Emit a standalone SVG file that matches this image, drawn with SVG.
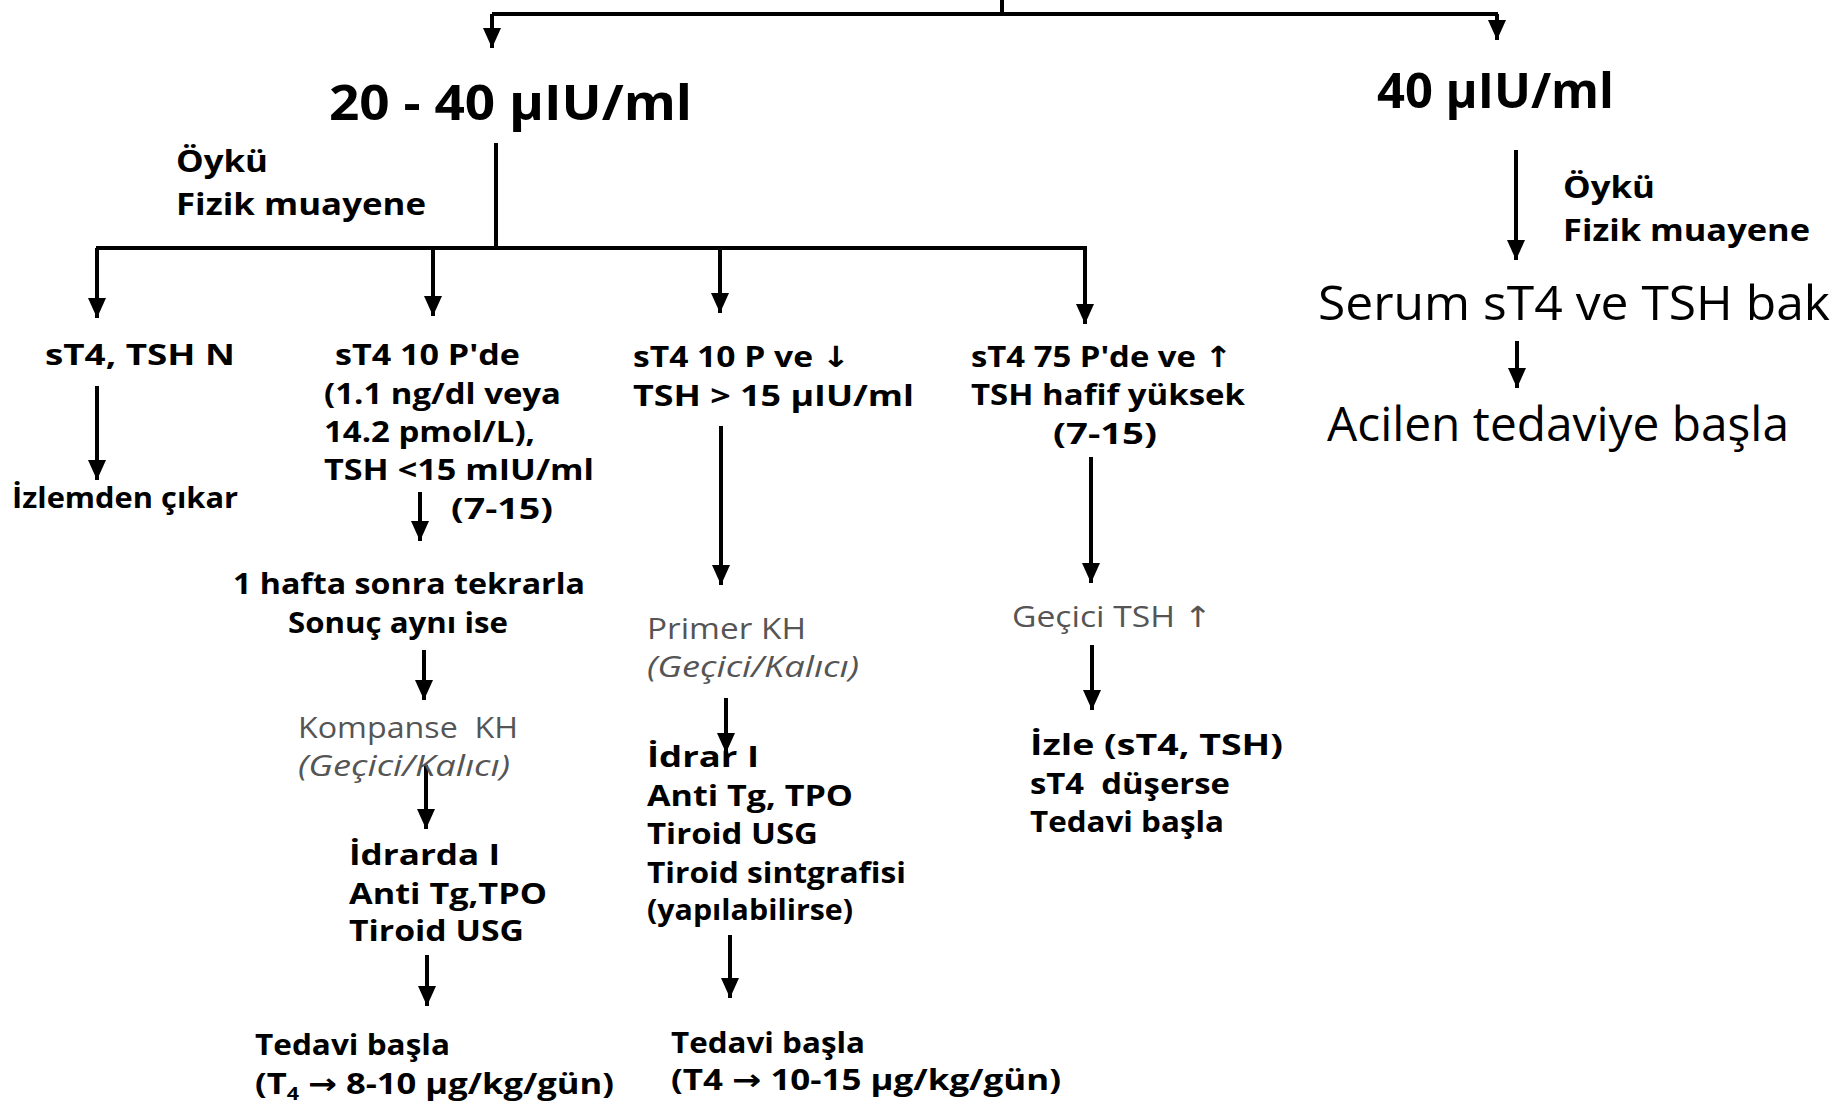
<svg xmlns="http://www.w3.org/2000/svg" width="1845" height="1106" viewBox="0 0 1845 1106">
<style>
text{font-family:"Open Sans","Noto Sans","DejaVu Sans",sans-serif;fill:#000;white-space:pre}
.b{font-weight:700;font-size:29px}
.h{font-weight:700;font-size:49px}
.m{font-weight:700;font-size:31px}
.r{font-weight:400;font-size:47px}
.g{font-weight:400;font-size:29px;fill:#555}
.gi{font-weight:400;font-style:italic;font-size:29px;fill:#555}
.ln{stroke:#000;stroke-width:4;fill:none}
.ar{stroke:#000;stroke-width:4;fill:none;marker-end:url(#ah)}
</style>
<defs>
<marker id="ah" viewBox="0 0 20 18" refX="20" refY="9" markerWidth="22" markerHeight="18" markerUnits="userSpaceOnUse" orient="auto">
<path d="M0,0 L20,9 L0,18 z" fill="#000"/>
</marker>
</defs>
<rect width="1845" height="1106" fill="#fff"/>
<g id="connectors">
<path class="ln" d="M1002,0 V14"/>
<path class="ln" d="M492,14 H1498"/>
<path class="ar" d="M492,14 V48"/>
<path class="ar" d="M1497,14 V40"/>
<path class="ln" d="M496,143 V248"/>
<path class="ln" d="M96,248 H1087"/>
<path class="ar" d="M97,248 V318"/>
<path class="ar" d="M433,248 V316"/>
<path class="ar" d="M720,248 V313"/>
<path class="ar" d="M1085,248 V324"/>
<path class="ar" d="M97,386 V480"/>
<path class="ar" d="M420,492 V541"/>
<path class="ar" d="M424,650 V700"/>
<path class="ar" d="M426,765 V829"/>
<path class="ar" d="M427,955 V1006"/>
<path class="ar" d="M721,426 V585"/>
<path class="ar" d="M726,698 V753"/>
<path class="ar" d="M730,935 V998"/>
<path class="ar" d="M1091,457 V583"/>
<path class="ar" d="M1092,645 V710"/>
<path class="ar" d="M1516,150 V260"/>
<path class="ar" d="M1517,341 V388"/>
</g>
<g id="n-20-40"><text class="h" x="329" y="120" textLength="363" lengthAdjust="spacingAndGlyphs">20 - 40 µIU/ml</text></g>
<g id="n-40"><text class="h" x="1377" y="108" textLength="237" lengthAdjust="spacingAndGlyphs">40 µIU/ml</text></g>
<g id="n-oyku-left">
<text class="m" x="176" y="172" textLength="92" lengthAdjust="spacingAndGlyphs">Öykü</text>
<text class="m" x="176" y="215" textLength="250" lengthAdjust="spacingAndGlyphs">Fizik muayene</text>
</g>
<g id="n-oyku-right">
<text class="m" x="1563" y="198" textLength="92" lengthAdjust="spacingAndGlyphs">Öykü</text>
<text class="m" x="1563" y="241" textLength="247" lengthAdjust="spacingAndGlyphs">Fizik muayene</text>
</g>
<g id="n-serum"><text class="r" x="1318" y="320" textLength="512" lengthAdjust="spacingAndGlyphs">Serum sT4 ve TSH bak</text></g>
<g id="n-acilen"><text class="r" x="1327" y="441" textLength="462" lengthAdjust="spacingAndGlyphs">Acilen tedaviye başla</text></g>
<g id="n-normal"><text class="b" x="45" y="365" textLength="190" lengthAdjust="spacingAndGlyphs">sT4, TSH N</text></g>
<g id="n-izlemden"><text class="b" x="12" y="508" textLength="226" lengthAdjust="spacingAndGlyphs">İzlemden çıkar</text></g>
<g id="n-st4-10pde">
<text class="b" x="335" y="365" textLength="185" lengthAdjust="spacingAndGlyphs">sT4 10 P'de</text>
<text class="b" x="324" y="404" textLength="237" lengthAdjust="spacingAndGlyphs">(1.1 ng/dl veya</text>
<text class="b" x="324" y="442" textLength="211" lengthAdjust="spacingAndGlyphs">14.2 pmol/L),</text>
<text class="b" x="324" y="480" textLength="270" lengthAdjust="spacingAndGlyphs">TSH &lt;15 mIU/ml</text>
<text class="b" x="451" y="519" textLength="102" lengthAdjust="spacingAndGlyphs">(7-15)</text>
</g>
<g id="n-1hafta">
<text class="b" x="233" y="594" textLength="352" lengthAdjust="spacingAndGlyphs">1 hafta sonra tekrarla</text>
<text class="b" x="288" y="633" textLength="220" lengthAdjust="spacingAndGlyphs">Sonuç aynı ise</text>
</g>
<g id="n-kompanse">
<text class="g" x="298" y="738" textLength="220" lengthAdjust="spacingAndGlyphs">Kompanse  KH</text>
<text class="gi" x="298" y="776" textLength="212" lengthAdjust="spacingAndGlyphs">(Geçici/Kalıcı)</text>
</g>
<g id="n-idrarda">
<text class="b" x="349" y="865" textLength="151" lengthAdjust="spacingAndGlyphs">İdrarda I</text>
<text class="b" x="349" y="904" textLength="198" lengthAdjust="spacingAndGlyphs">Anti Tg,TPO</text>
<text class="b" x="349" y="941" textLength="175" lengthAdjust="spacingAndGlyphs">Tiroid USG</text>
</g>
<g id="n-tedavi1">
<text class="b" x="255" y="1055" textLength="195" lengthAdjust="spacingAndGlyphs">Tedavi başla</text>
<text class="b" x="255" y="1094" textLength="359" lengthAdjust="spacingAndGlyphs">(T<tspan font-size="18" dy="6">4</tspan><tspan dy="-6"> → 8-10 µg/kg/gün)</tspan></text>
</g>
<g id="n-st4-10p-ve">
<text class="b" x="633" y="367" textLength="217" lengthAdjust="spacingAndGlyphs">sT4 10 P ve ↓</text>
<text class="b" x="633" y="406" textLength="281" lengthAdjust="spacingAndGlyphs">TSH &gt; 15 µIU/ml</text>
</g>
<g id="n-primer">
<text class="g" x="647" y="639" textLength="159" lengthAdjust="spacingAndGlyphs">Primer KH</text>
<text class="gi" x="647" y="677" textLength="212" lengthAdjust="spacingAndGlyphs">(Geçici/Kalıcı)</text>
</g>
<g id="n-idrar">
<text class="b" x="647" y="767" textLength="112" lengthAdjust="spacingAndGlyphs">İdrar I</text>
<text class="b" x="647" y="806" textLength="206" lengthAdjust="spacingAndGlyphs">Anti Tg, TPO</text>
<text class="b" x="647" y="844" textLength="171" lengthAdjust="spacingAndGlyphs">Tiroid USG</text>
<text class="b" x="647" y="883" textLength="259" lengthAdjust="spacingAndGlyphs">Tiroid sintgrafisi</text>
<text class="b" x="647" y="920" textLength="206" lengthAdjust="spacingAndGlyphs">(yapılabilirse)</text>
</g>
<g id="n-tedavi2">
<text class="b" x="671" y="1053" textLength="194" lengthAdjust="spacingAndGlyphs">Tedavi başla</text>
<text class="b" x="671" y="1090" textLength="390" lengthAdjust="spacingAndGlyphs">(T4 → 10-15 µg/kg/gün)</text>
</g>
<g id="n-st4-75">
<text class="b" x="971" y="367" textLength="261" lengthAdjust="spacingAndGlyphs">sT4 75 P'de ve ↑</text>
<text class="b" x="971" y="405" textLength="274" lengthAdjust="spacingAndGlyphs">TSH hafif yüksek</text>
<text class="b" x="1053" y="444" textLength="104" lengthAdjust="spacingAndGlyphs">(7-15)</text>
</g>
<g id="n-gecici"><text class="g" x="1012" y="627" textLength="200" lengthAdjust="spacingAndGlyphs">Geçici TSH ↑</text></g>
<g id="n-izle">
<text class="b" x="1030" y="755" textLength="253" lengthAdjust="spacingAndGlyphs">İzle (sT4, TSH)</text>
<text class="b" x="1030" y="794" textLength="200" lengthAdjust="spacingAndGlyphs">sT4  düşerse</text>
<text class="b" x="1030" y="832" textLength="194" lengthAdjust="spacingAndGlyphs">Tedavi başla</text>
</g>
</svg>
